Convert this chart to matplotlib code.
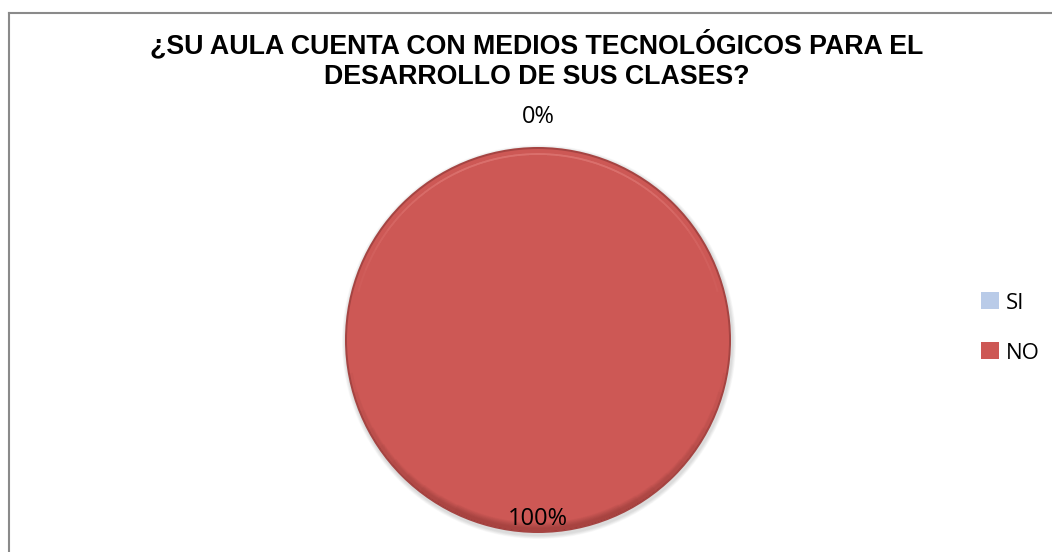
import numpy as np
import matplotlib
matplotlib.use('Agg')
import matplotlib.pyplot as plt
from matplotlib.patches import Wedge, Circle

W, H = 1052, 552

title = '¿SU AULA CUENTA CON MEDIOS TECNOLÓGICOS PARA EL\nDESARROLLO DE SUS CLASES?'
categories = ['SI', 'NO']
values = [0, 100]
colors = ['#B9CBE8', '#CD5855']

plt.rcParams['font.family'] = ['Liberation Sans', 'DejaVu Sans']

fig = plt.figure(figsize=(W / 100, H / 100), dpi=100)
ax = fig.add_axes([0, 0, 1, 1])

cx, cy, r = 538, H - 340, 193

# soft shadow + rim for the bevel look
for k in range(6):
    ax.add_patch(Circle((cx + 1, cy - 2), r + 4 - k * 0.6, color='#000000', alpha=0.025, lw=0))
ax.add_patch(Circle((cx, cy), r, color='#A54442', lw=0))

wedges, _ = ax.pie(values, colors=colors, startangle=90, counterclock=False,
                   center=(cx, cy), radius=r - 2, frame=True,
                   wedgeprops=dict(linewidth=0))
ax.set_xlim(0, W)
ax.set_ylim(0, H)
ax.set_aspect('equal')
ax.axis('off')

# darker band along the lower edge, fading towards the sides
for k in range(10):
    ax.add_patch(Wedge((cx, cy), r - 2, 190 + k * 6, 350 - k * 6, width=3 + k * 0.6,
                       color='#7A2F2D', alpha=0.05, lw=0))
# light highlight ring near the top edge, fading towards the sides
for k in range(8):
    ax.add_patch(Wedge((cx, cy), r - 6, 15 + k * 7, 165 - k * 7, width=2,
                       color='#F29490', alpha=0.07, lw=0))

# percentage labels
total = sum(values)
ang = 90.0
for v in values:
    span = 360.0 * v / total
    mid = np.deg2rad(ang - span / 2)
    ang -= span
    d = 1.155 if v == 0 else 0.93
    ax.text(cx + d * r * np.cos(mid), cy + d * r * np.sin(mid), '%d%%' % round(100 * v / total),
            ha='center', va='center', color='#000000',
            family=['Open Sans', 'DejaVu Sans'], fontsize=17)

ax.legend(wedges, categories, loc='center left', bbox_to_anchor=(981 / W, (H - 328) / H),
          frameon=False, handlelength=0.8, handleheight=0.8,
          labelspacing=1.3, handletextpad=0.3, borderpad=0, borderaxespad=0,
          prop=dict(family=['Open Sans', 'DejaVu Sans'], size=16))

fig.text(537 / W, (H - 60) / H, title, ha='center', va='center', fontsize=19.3,
         fontweight='bold', linespacing=1.22)

# chart area border (cut off on the right and bottom)
fig.add_artist(plt.Line2D([9.5 / W, 9.5 / W], [0, (H - 13) / H], color='#8A8A8A', lw=1.5))
fig.add_artist(plt.Line2D([9 / W, 1], [(H - 13) / H, (H - 13) / H], color='#8A8A8A', lw=1.5))

fig.savefig('out.png', dpi=100)
